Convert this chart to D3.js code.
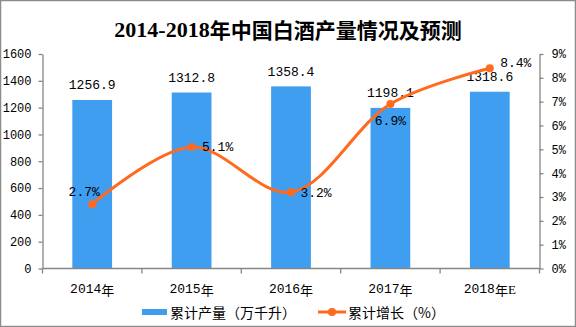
<!DOCTYPE html>
<html><head><meta charset="utf-8">
<script src="https://cdn.jsdelivr.net/npm/d3@7/dist/d3.min.js"></script>
<style>
html,body{margin:0;padding:0;background:#fff;}
svg{display:block;}
</style></head>
<body>
<svg id="chart" width="576" height="327"></svg>
<script>
const title = "2014-2018年中国白酒产量情况及预测";
const categories = ["2014年","2015年","2016年","2017年","2018年E"];
const production = [1256.9, 1312.8, 1358.4, 1198.1, 1318.6];
const growth = [2.7, 5.1, 3.2, 6.9, 8.4];
const leftTicks = [0,200,400,600,800,1000,1200,1400,1600];
const rightTicks = [0,1,2,3,4,5,6,7,8,9];
const seriesNames = ["累计产量（万千升）","累计增长（%）"];
// label offsets (style only)
const growthLabelOffsets = [[-8,-12],[26,1],[25,1],[0,17],[26,-5]];

const svg = d3.select("#chart");
const W = 576, H = 327;
const m = {left:42.5, right:539.5, top:54, bottom:268.5};
const numFont = "'Liberation Mono','Noto Sans CJK SC',monospace";
const cjkFont = "'Noto Sans CJK SC','Liberation Mono',sans-serif";
const blue = "#409EF0", orange = "#FF6A1F", axisCol = "#868686";

svg.append("rect").attr("x",0.5).attr("y",0.5).attr("width",W-1).attr("height",H-1)
  .attr("fill","#fff").attr("stroke","#8c8c8c").attr("stroke-width",1.5);

// title
const t = svg.append("text").attr("x",W/2).attr("y",29).attr("text-anchor","middle")
  .attr("dominant-baseline","central").attr("font-weight","bold").attr("font-size",22)
  .attr("fill","#000");
t.append("tspan").attr("font-family","'Liberation Serif',serif").text(title.slice(0,9));
t.append("tspan").attr("font-family",cjkFont).attr("font-size",21).text(title.slice(9));

const x = d3.scaleBand().domain(categories).range([m.left, m.right]).paddingInner(0).paddingOuter(0);
const yL = d3.scaleLinear().domain([0,1600]).range([m.bottom, m.top]);
const yR = d3.scaleLinear().domain([0,9]).range([m.bottom, m.top]);

// bars
const bw = x.bandwidth()*0.4;
svg.append("g").selectAll("rect").data(production).join("rect")
  .attr("x",(d,i)=>x(categories[i])+x.bandwidth()/2-bw/2)
  .attr("y",d=>yL(d)).attr("width",bw).attr("height",d=>yL(0)-yL(d))
  .attr("fill",blue);

// axes
function styleAxis(g){
  g.selectAll("path,line").attr("stroke",axisCol).attr("stroke-width",1.3);
  g.selectAll("text").attr("fill","#000").attr("font-family",numFont).attr("font-size",12);
}
const gL = svg.append("g").attr("transform",`translate(${m.left},0)`)
  .call(d3.axisLeft(yL).tickValues(leftTicks).tickSize(4).tickSizeOuter(0).tickPadding(7).tickFormat(d3.format("d")));
styleAxis(gL);
const gR = svg.append("g").attr("transform",`translate(${m.right},0)`)
  .call(d3.axisRight(yR).tickValues(rightTicks).tickSize(4).tickSizeOuter(0).tickPadding(8).tickFormat(d=>d+"%"));
styleAxis(gR);

const xPos = d3.scaleLinear().domain([0,categories.length]).range([m.left,m.right]);
const gX = svg.append("g").attr("transform",`translate(0,${m.bottom})`);
gX.append("line").attr("x1",m.left).attr("x2",m.right).attr("stroke",axisCol).attr("stroke-width",1.3);
gX.selectAll("line.tk").data(d3.range(categories.length+1)).join("line").attr("class","tk")
  .attr("x1",d=>xPos(d)).attr("x2",d=>xPos(d)).attr("y1",0).attr("y2",5)
  .attr("stroke",axisCol).attr("stroke-width",1.3);
gX.selectAll("text").data(categories).join("text")
  .attr("x",d=>x(d)+x.bandwidth()/2).attr("y",20).attr("text-anchor","middle")
  .attr("dominant-baseline","central").attr("font-size",13)
  .each(function(d){
    const s = d3.select(this);
    const parts = d.match(/(\d+)(年)(.*)/);
    s.append("tspan").attr("font-family",numFont).text(parts[1]);
    s.append("tspan").attr("font-family",cjkFont).text(parts[2]);
    if(parts[3]) s.append("tspan").attr("font-family","'Liberation Serif',serif").text(parts[3]);
  });

// bar labels
svg.append("g").selectAll("text").data(production).join("text")
  .attr("x",(d,i)=>x(categories[i])+x.bandwidth()/2).attr("y",d=>yL(d)-14)
  .attr("text-anchor","middle").attr("dominant-baseline","central")
  .attr("font-family",numFont).attr("font-size",13).attr("fill","#000")
  .text(d=>d.toFixed(1));

// line
const lineGen = d3.line().x((d,i)=>x(categories[i])+x.bandwidth()/2).y(d=>yR(d))
  .curve(d3.curveCatmullRom.alpha(0.5));
svg.append("path").datum(growth).attr("d",lineGen).attr("fill","none")
  .attr("stroke",orange).attr("stroke-width",3);
svg.append("g").selectAll("circle").data(growth).join("circle")
  .attr("cx",(d,i)=>x(categories[i])+x.bandwidth()/2).attr("cy",d=>yR(d)).attr("r",4)
  .attr("fill",orange);
svg.append("g").selectAll("text").data(growth).join("text")
  .attr("x",(d,i)=>x(categories[i])+x.bandwidth()/2+growthLabelOffsets[i][0])
  .attr("y",(d,i)=>yR(d)+growthLabelOffsets[i][1])
  .attr("text-anchor","middle").attr("dominant-baseline","central")
  .attr("font-family",numFont).attr("font-size",13).attr("fill","#000")
  .text(d=>d.toFixed(1)+"%");

// legend
const lg = svg.append("g");
lg.append("rect").attr("x",142).attr("y",309).attr("width",25).attr("height",6).attr("fill",blue);
lg.append("text").attr("x",170).attr("y",312).attr("dominant-baseline","central")
  .attr("font-family",cjkFont).attr("font-size",14).attr("fill","#000").text(seriesNames[0]);
lg.append("line").attr("x1",318).attr("x2",346).attr("y1",312).attr("y2",312)
  .attr("stroke",orange).attr("stroke-width",3);
lg.append("circle").attr("cx",332).attr("cy",312).attr("r",4).attr("fill",orange);
lg.append("text").attr("x",348).attr("y",312).attr("dominant-baseline","central")
  .attr("font-family",cjkFont).attr("font-size",14).attr("fill","#000").text(seriesNames[1]);
</script>
</body></html>
